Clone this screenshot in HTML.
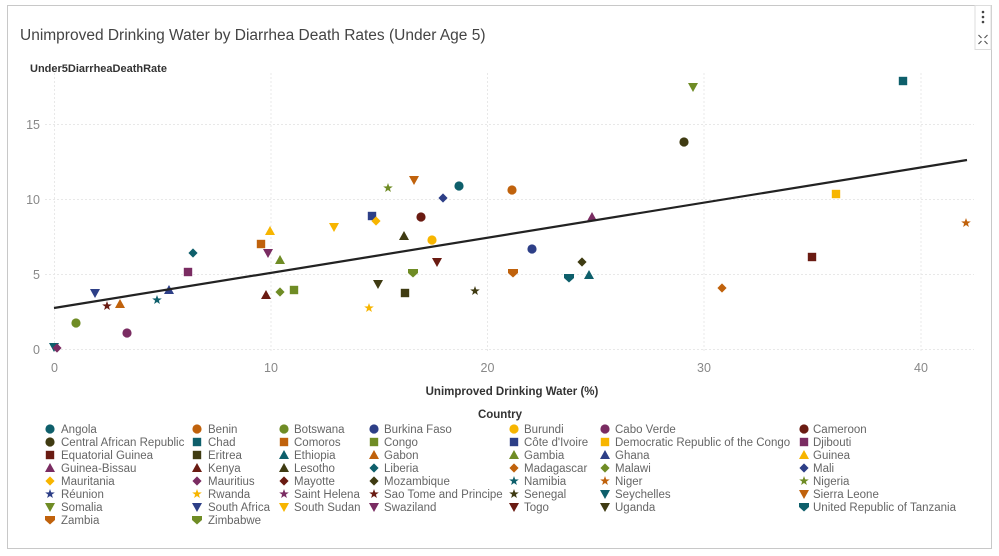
<!DOCTYPE html>
<html><head><meta charset="utf-8"><style>
html,body{margin:0;padding:0;background:#fff;}
svg{display:block;font-family:"Liberation Sans",sans-serif;}
.lg{font-size:11.5px;fill:#666;}
</style></head><body>
<svg width="999" height="556" viewBox="0 0 999 556" xmlns="http://www.w3.org/2000/svg">
<defs>
<symbol id="c" overflow="visible"><circle cx="0" cy="0" r="4.6"/></symbol>
<symbol id="s" overflow="visible"><rect x="-4.2" y="-4.2" width="8.4" height="8.4"/></symbol>
<symbol id="t" overflow="visible"><polygon points="0,-5 5,4 -5,4"/></symbol>
<symbol id="d" overflow="visible"><polygon points="0,5 5,-4 -5,-4"/></symbol>
<symbol id="m" overflow="visible"><polygon points="0,-4.6 4.6,0 0,4.6 -4.6,0"/></symbol>
<symbol id="r" overflow="visible"><polygon points="0,-5 1.2,-1.6 4.8,-1.5 1.9,0.6 2.9,4 0,2 -2.9,4 -1.9,0.6 -4.8,-1.5 -1.2,-1.6"/></symbol>
<symbol id="h" overflow="visible"><polygon points="-5,-4 5,-4 5,0 0,4.5 -5,0"/></symbol>
</defs>
<rect x="7.5" y="5.5" width="984" height="543" fill="#fff" stroke="#c8c8c8"/>
<rect x="975" y="5.5" width="16" height="44" fill="#fff" stroke="#ddd"/>
<circle cx="983" cy="12" r="1.3" fill="#444"/><circle cx="983" cy="17" r="1.3" fill="#444"/><circle cx="983" cy="22" r="1.3" fill="#444"/>
<g stroke="#555" stroke-width="1.2"><path d="M978.5 35 l3 3 M987.5 35 l-3 3 M978.5 44 l3 -3 M987.5 44 l-3 -3"/></g>
<text x="20" y="40" font-size="15.5" fill="#444">Unimproved Drinking Water by Diarrhea Death Rates (Under Age 5)</text>
<text x="30" y="72" font-size="11" font-weight="bold" fill="#333">Under5DiarrheaDeathRate</text>
<g stroke="#e8e8e8" stroke-dasharray="2,2" stroke-width="1">
<line x1="45" y1="124.5" x2="974" y2="124.5"/><line x1="45" y1="199.5" x2="974" y2="199.5"/>
<line x1="45" y1="274.5" x2="974" y2="274.5"/><line x1="45" y1="349.5" x2="974" y2="349.5"/>
<line x1="54.5" y1="73" x2="54.5" y2="352"/><line x1="271" y1="73" x2="271" y2="352"/>
<line x1="487.5" y1="73" x2="487.5" y2="352"/><line x1="704" y1="73" x2="704" y2="352"/>
<line x1="921" y1="73" x2="921" y2="352"/>
</g>
<g font-size="12.5" fill="#888" text-anchor="end">
<text x="40" y="129">15</text><text x="40" y="204">10</text><text x="40" y="279">5</text><text x="40" y="354">0</text>
</g>
<g font-size="12.5" fill="#888" text-anchor="middle">
<text x="54.5" y="372">0</text><text x="271" y="372">10</text><text x="487.5" y="372">20</text><text x="704" y="372">30</text><text x="921" y="372">40</text>
</g>
<text x="512" y="395" font-size="11.5" font-weight="bold" fill="#333" text-anchor="middle">Unimproved Drinking Water (%)</text>
<use href="#d" x="54" y="347" fill="#0e5f6b"/>
<use href="#m" x="57" y="348" fill="#7a2c62"/>
<use href="#c" x="76" y="323" fill="#6f8c25"/>
<use href="#d" x="95" y="293" fill="#2d3f87"/>
<use href="#r" x="107" y="306" fill="#6a1b12"/>
<use href="#t" x="120" y="304" fill="#c0620c"/>
<use href="#c" x="127" y="333" fill="#7a2c62"/>
<use href="#r" x="157" y="300" fill="#0e5f6b"/>
<use href="#t" x="169" y="290" fill="#2d3f87"/>
<use href="#s" x="188" y="272" fill="#7a2c62"/>
<use href="#m" x="193" y="253" fill="#0e5f6b"/>
<use href="#s" x="261" y="244" fill="#c0620c"/>
<use href="#t" x="270" y="231" fill="#f7b500"/>
<use href="#d" x="268" y="253" fill="#7a2c62"/>
<use href="#t" x="266" y="295" fill="#6a1b12"/>
<use href="#t" x="280" y="260" fill="#6f8c25"/>
<use href="#m" x="280" y="292" fill="#6f8c25"/>
<use href="#s" x="294" y="290" fill="#6f8c25"/>
<use href="#d" x="334" y="227" fill="#f7b500"/>
<use href="#r" x="369" y="308" fill="#f7b500"/>
<use href="#s" x="372" y="216" fill="#2d3f87"/>
<use href="#m" x="376" y="221" fill="#f7b500"/>
<use href="#r" x="388" y="188" fill="#6f8c25"/>
<use href="#d" x="378" y="284" fill="#3f3b12"/>
<use href="#t" x="404" y="236" fill="#3f3b12"/>
<use href="#s" x="405" y="293" fill="#3f3b12"/>
<use href="#d" x="414" y="180" fill="#c0620c"/>
<use href="#h" x="413" y="273" fill="#6f8c25"/>
<use href="#m" x="443" y="198" fill="#2d3f87"/>
<use href="#c" x="421" y="217" fill="#6a1b12"/>
<use href="#c" x="432" y="240" fill="#f7b500"/>
<use href="#d" x="437" y="262" fill="#6a1b12"/>
<use href="#r" x="475" y="291" fill="#3f3b12"/>
<use href="#c" x="459" y="186" fill="#0e5f6b"/>
<use href="#c" x="512" y="190" fill="#c0620c"/>
<use href="#c" x="532" y="249" fill="#2d3f87"/>
<use href="#h" x="513" y="273" fill="#c0620c"/>
<use href="#h" x="569" y="278" fill="#0e5f6b"/>
<use href="#m" x="582" y="262" fill="#3f3b12"/>
<use href="#t" x="589" y="275" fill="#0e5f6b"/>
<use href="#t" x="592" y="217" fill="#7a2c62"/>
<use href="#c" x="684" y="142" fill="#3f3b12"/>
<use href="#d" x="693" y="87" fill="#6f8c25"/>
<use href="#m" x="722" y="288" fill="#c0620c"/>
<use href="#s" x="812" y="257" fill="#6a1b12"/>
<use href="#s" x="836" y="194" fill="#f7b500"/>
<use href="#s" x="903" y="81" fill="#0e5f6b"/>
<use href="#r" x="966" y="223" fill="#c0620c"/>
<line x1="54" y1="308" x2="967" y2="160" stroke="#222" stroke-width="2.2"/>
<text x="500" y="418" font-size="11.5" font-weight="bold" fill="#333" text-anchor="middle">Country</text>
<g class="lg">
<use href="#c" x="50" y="429" fill="#0e5f6b"/><text x="61" y="433">Angola</text>
<use href="#c" x="50" y="442" fill="#3f3b12"/><text x="61" y="446">Central African Republic</text>
<use href="#s" x="50" y="455" fill="#6a1b12"/><text x="61" y="459">Equatorial Guinea</text>
<use href="#t" x="50" y="468" fill="#7a2c62"/><text x="61" y="472">Guinea-Bissau</text>
<use href="#m" x="50" y="481" fill="#f7b500"/><text x="61" y="485">Mauritania</text>
<use href="#r" x="50" y="494" fill="#2d3f87"/><text x="61" y="498">Réunion</text>
<use href="#d" x="50" y="507" fill="#6f8c25"/><text x="61" y="511">Somalia</text>
<use href="#h" x="50" y="520" fill="#c0620c"/><text x="61" y="524">Zambia</text>

<use href="#c" x="197" y="429" fill="#c0620c"/><text x="208" y="433">Benin</text>
<use href="#s" x="197" y="442" fill="#0e5f6b"/><text x="208" y="446">Chad</text>
<use href="#s" x="197" y="455" fill="#3f3b12"/><text x="208" y="459">Eritrea</text>
<use href="#t" x="197" y="468" fill="#6a1b12"/><text x="208" y="472">Kenya</text>
<use href="#m" x="197" y="481" fill="#7a2c62"/><text x="208" y="485">Mauritius</text>
<use href="#r" x="197" y="494" fill="#f7b500"/><text x="208" y="498">Rwanda</text>
<use href="#d" x="197" y="507" fill="#2d3f87"/><text x="208" y="511">South Africa</text>
<use href="#h" x="197" y="520" fill="#6f8c25"/><text x="208" y="524">Zimbabwe</text>

<use href="#c" x="284" y="429" fill="#6f8c25"/><text x="294" y="433">Botswana</text>
<use href="#s" x="284" y="442" fill="#c0620c"/><text x="294" y="446">Comoros</text>
<use href="#t" x="284" y="455" fill="#0e5f6b"/><text x="294" y="459">Ethiopia</text>
<use href="#t" x="284" y="468" fill="#3f3b12"/><text x="294" y="472">Lesotho</text>
<use href="#m" x="284" y="481" fill="#6a1b12"/><text x="294" y="485">Mayotte</text>
<use href="#r" x="284" y="494" fill="#7a2c62"/><text x="294" y="498">Saint Helena</text>
<use href="#d" x="284" y="507" fill="#f7b500"/><text x="294" y="511">South Sudan</text>

<use href="#c" x="374" y="429" fill="#2d3f87"/><text x="384" y="433">Burkina Faso</text>
<use href="#s" x="374" y="442" fill="#6f8c25"/><text x="384" y="446">Congo</text>
<use href="#t" x="374" y="455" fill="#c0620c"/><text x="384" y="459">Gabon</text>
<use href="#m" x="374" y="468" fill="#0e5f6b"/><text x="384" y="472">Liberia</text>
<use href="#m" x="374" y="481" fill="#3f3b12"/><text x="384" y="485">Mozambique</text>
<use href="#r" x="374" y="494" fill="#6a1b12"/><text x="384" y="498">Sao Tome and Principe</text>
<use href="#d" x="374" y="507" fill="#7a2c62"/><text x="384" y="511">Swaziland</text>

<use href="#c" x="514" y="429" fill="#f7b500"/><text x="524" y="433">Burundi</text>
<use href="#s" x="514" y="442" fill="#2d3f87"/><text x="524" y="446">Côte d'Ivoire</text>
<use href="#t" x="514" y="455" fill="#6f8c25"/><text x="524" y="459">Gambia</text>
<use href="#m" x="514" y="468" fill="#c0620c"/><text x="524" y="472">Madagascar</text>
<use href="#r" x="514" y="481" fill="#0e5f6b"/><text x="524" y="485">Namibia</text>
<use href="#r" x="514" y="494" fill="#3f3b12"/><text x="524" y="498">Senegal</text>
<use href="#d" x="514" y="507" fill="#6a1b12"/><text x="524" y="511">Togo</text>

<use href="#c" x="605" y="429" fill="#7a2c62"/><text x="615" y="433">Cabo Verde</text>
<use href="#s" x="605" y="442" fill="#f7b500"/><text x="615" y="446">Democratic Republic of the Congo</text>
<use href="#t" x="605" y="455" fill="#2d3f87"/><text x="615" y="459">Ghana</text>
<use href="#m" x="605" y="468" fill="#6f8c25"/><text x="615" y="472">Malawi</text>
<use href="#r" x="605" y="481" fill="#c0620c"/><text x="615" y="485">Niger</text>
<use href="#d" x="605" y="494" fill="#0e5f6b"/><text x="615" y="498">Seychelles</text>
<use href="#d" x="605" y="507" fill="#3f3b12"/><text x="615" y="511">Uganda</text>

<use href="#c" x="804" y="429" fill="#6a1b12"/><text x="813" y="433">Cameroon</text>
<use href="#s" x="804" y="442" fill="#7a2c62"/><text x="813" y="446">Djibouti</text>
<use href="#t" x="804" y="455" fill="#f7b500"/><text x="813" y="459">Guinea</text>
<use href="#m" x="804" y="468" fill="#2d3f87"/><text x="813" y="472">Mali</text>
<use href="#r" x="804" y="481" fill="#6f8c25"/><text x="813" y="485">Nigeria</text>
<use href="#d" x="804" y="494" fill="#c0620c"/><text x="813" y="498">Sierra Leone</text>
<use href="#h" x="804" y="507" fill="#0e5f6b"/><text x="813" y="511">United Republic of Tanzania</text>
</g>
</svg>
</body></html>
